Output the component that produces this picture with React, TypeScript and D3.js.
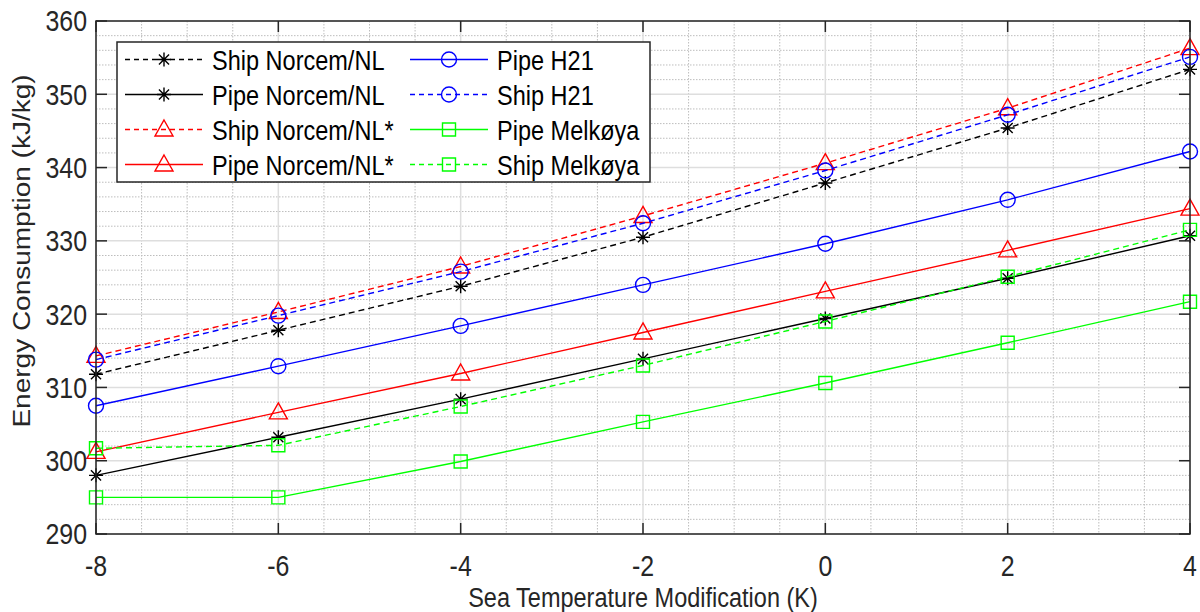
import React from 'react';
import * as d3 from 'd3';

// ---------- data ----------
const xValues = [-8, -6, -4, -2, 0, 2, 4];
const shipNorcemNL = [311.8, 317.8, 323.8, 330.5, 337.9, 345.4, 353.4];
const pipeNorcemNL = [298.0, 303.2, 308.4, 313.9, 319.4, 324.9, 330.7];
const shipNorcemNLStar = [314.3, 320.3, 326.5, 333.4, 340.6, 348.1, 356.3];
const pipeNorcemNLStar = [301.2, 306.6, 311.9, 317.5, 323.1, 328.7, 334.4];
const pipeH21 = [307.5, 312.9, 318.4, 324.0, 329.6, 335.6, 342.2];
const shipH21 = [313.8, 319.8, 325.8, 332.4, 339.6, 347.2, 355.1];
const pipeMelkoya = [295.0, 295.0, 299.9, 305.3, 310.6, 316.1, 321.7];
const shipMelkoya = [301.7, 302.1, 307.4, 313.0, 319.0, 325.1, 331.5];

const seriesNames = [
  'Ship Norcem/NL',
  'Pipe Norcem/NL',
  'Ship Norcem/NL*',
  'Pipe Norcem/NL*',
  'Pipe H21',
  'Ship H21',
  'Pipe Melkøya',
  'Ship Melkøya',
];

const xTicks = [-8, -6, -4, -2, 0, 2, 4];
const yTicks = [290, 300, 310, 320, 330, 340, 350, 360];

const xLabel = 'Sea Temperature Modification (K)';
const yLabel = 'Energy Consumption (kJ/kg)';

// ---------- styling ----------
type Marker = 'star' | 'triangle' | 'circle' | 'square';
const seriesStyle: { color: string; dashed: boolean; marker: Marker }[] = [
  { color: '#000000', dashed: true, marker: 'star' },
  { color: '#000000', dashed: false, marker: 'star' },
  { color: '#ff0000', dashed: true, marker: 'triangle' },
  { color: '#ff0000', dashed: false, marker: 'triangle' },
  { color: '#0000ff', dashed: false, marker: 'circle' },
  { color: '#0000ff', dashed: true, marker: 'circle' },
  { color: '#00ff00', dashed: false, marker: 'square' },
  { color: '#00ff00', dashed: true, marker: 'square' },
];
const seriesValues = [
  shipNorcemNL, pipeNorcemNL, shipNorcemNLStar, pipeNorcemNLStar,
  pipeH21, shipH21, pipeMelkoya, shipMelkoya,
];

const W = 1200;
const H = 612;
const plot = { left: 96, right: 1190, top: 21, bottom: 534 };
const FONT = '"Liberation Sans", Arial, Helvetica, sans-serif';
const AXIS_COLOR = '#262626';
const SX = 0.84; // horizontal squeeze of the text glyphs
const FS = 28;
const TICK_FS = 29;
const TICK_SX = 0.86;

function markerPath(m: Marker): string {
  if (m === 'star') {
    const r = 7;
    const d = r * 0.72;
    return `M${-r},0L${r},0M0,${-r}L0,${r}M${-d},${-d}L${d},${d}M${-d},${d}L${d},${-d}`;
  }
  if (m === 'triangle') {
    return 'M0,-9.5L9,6.5L-9,6.5Z';
  }
  if (m === 'square') {
    const s = 6.5;
    return `M${-s},${-s}L${s},${-s}L${s},${s}L${-s},${s}Z`;
  }
  const r = 7.5;
  return `M${r},0A${r},${r} 0 1,1 ${-r},0A${r},${r} 0 1,1 ${r},0Z`;
}

function HText(props: {
  x: number; y: number; anchor?: 'start' | 'middle' | 'end'; size?: number; sx?: number;
  fill?: string; dy?: string; children: React.ReactNode;
}) {
  const { x, y, anchor = 'start', size = FS, sx = SX, fill = AXIS_COLOR, dy, children } = props;
  return (
    <text
      transform={`translate(${x},${y}) scale(${sx},1)`}
      textAnchor={anchor}
      fontSize={size}
      fill={fill}
      dy={dy}
    >
      {children}
    </text>
  );
}

export default function App() {
  const x = d3.scaleLinear().domain([-8, 4]).range([plot.left, plot.right]);
  const y = d3.scaleLinear().domain([290, 360]).range([plot.bottom, plot.top]);

  const line = d3
    .line<number>()
    .x((_, i) => x(xValues[i]))
    .y((v) => y(v));

  const minorX = d3.range(-8, 4.0001, 0.5).filter((v) => !xTicks.includes(v));
  const minorY = d3.range(290, 360.0001, 2).filter((v) => !yTicks.includes(v));

  // legend layout
  const legend = { left: 117, top: 42, right: 650, bottom: 182 };
  const rowH = (legend.bottom - legend.top) / 4;
  const colX = [125, 410];
  const lineLen = 78;

  return (
    <svg
      width={W}
      height={H}
      style={{ position: 'absolute', left: 0, top: 0, background: '#fff' }}
      fontFamily={FONT}
    >
      <rect x={0} y={0} width={W} height={H} fill="#fff" />
      {/* minor grid */}
      <g stroke="#bdbdbd" strokeWidth={1} strokeDasharray="1.5,1.5">
        {minorX.map((v) => (
          <line key={'mx' + v} x1={x(v)} x2={x(v)} y1={plot.top} y2={plot.bottom} />
        ))}
        {minorY.map((v) => (
          <line key={'my' + v} x1={plot.left} x2={plot.right} y1={y(v)} y2={y(v)} />
        ))}
      </g>
      {/* major grid */}
      <g stroke="#dedede" strokeWidth={1.5}>
        {xTicks.map((v) => (
          <line key={'gx' + v} x1={x(v)} x2={x(v)} y1={plot.top} y2={plot.bottom} />
        ))}
        {yTicks.map((v) => (
          <line key={'gy' + v} x1={plot.left} x2={plot.right} y1={y(v)} y2={y(v)} />
        ))}
      </g>

      {/* series */}
      {seriesValues.map((vals, si) => {
        const st = seriesStyle[si];
        return (
          <g key={'s' + si}>
            <path
              d={line(vals) || ''}
              fill="none"
              stroke={st.color}
              strokeWidth={1.4}
              strokeDasharray={st.dashed ? '6,4' : undefined}
            />
            {vals.map((v, i) => (
              <path
                key={i}
                d={markerPath(st.marker)}
                transform={`translate(${x(xValues[i])},${y(v)})`}
                fill="none"
                stroke={st.color}
                strokeWidth={1.4}
              />
            ))}
          </g>
        );
      })}

      {/* axes box and ticks */}
      <g stroke={AXIS_COLOR} strokeWidth={1.5} fill="none">
        <rect x={plot.left} y={plot.top} width={plot.right - plot.left} height={plot.bottom - plot.top} />
        {xTicks.map((v) => (
          <g key={'tx' + v}>
            <line x1={x(v)} x2={x(v)} y1={plot.bottom} y2={plot.bottom - 11} />
            <line x1={x(v)} x2={x(v)} y1={plot.top} y2={plot.top + 11} />
          </g>
        ))}
        {yTicks.map((v) => (
          <g key={'ty' + v}>
            <line x1={plot.left} x2={plot.left + 11} y1={y(v)} y2={y(v)} />
            <line x1={plot.right} x2={plot.right - 11} y1={y(v)} y2={y(v)} />
          </g>
        ))}
      </g>

      {/* tick labels */}
      {xTicks.map((v) => (
        <HText key={'lx' + v} x={x(v)} y={576} anchor="middle" size={TICK_FS} sx={TICK_SX}>
          {String(v)}
        </HText>
      ))}
      {yTicks.map((v) => (
        <HText key={'ly' + v} x={87} y={y(v)} dy="0.36em" anchor="end" size={TICK_FS} sx={TICK_SX}>
          {String(v)}
        </HText>
      ))}

      {/* axis labels */}
      <HText x={(plot.left + plot.right) / 2} y={607} anchor="middle">
        {xLabel}
      </HText>
      <text
        transform={`translate(30,251) scale(${SX},1) rotate(-90)`}
        textAnchor="middle"
        fontSize={FS}
        fill={AXIS_COLOR}
      >
        {yLabel}
      </text>

      {/* legend */}
      <rect
        x={legend.left}
        y={legend.top}
        width={legend.right - legend.left}
        height={legend.bottom - legend.top}
        fill="#fff"
        stroke={AXIS_COLOR}
        strokeWidth={1.5}
      />
      {seriesNames.map((name, si) => {
        const st = seriesStyle[si];
        const col = si < 4 ? 0 : 1;
        const row = si % 4;
        const cy = legend.top + rowH * (row + 0.5);
        const x0 = colX[col];
        return (
          <g key={'lg' + si}>
            <line
              x1={x0}
              x2={x0 + lineLen}
              y1={cy}
              y2={cy}
              stroke={st.color}
              strokeWidth={1.4}
              strokeDasharray={st.dashed ? '5,4' : undefined}
            />
            <path
              d={markerPath(st.marker)}
              transform={`translate(${x0 + lineLen / 2},${cy})`}
              fill="none"
              stroke={st.color}
              strokeWidth={1.4}
            />
            <HText x={x0 + lineLen + 9} y={cy} dy="0.36em" fill="#000">
              {name}
            </HText>
          </g>
        );
      })}
    </svg>
  );
}
